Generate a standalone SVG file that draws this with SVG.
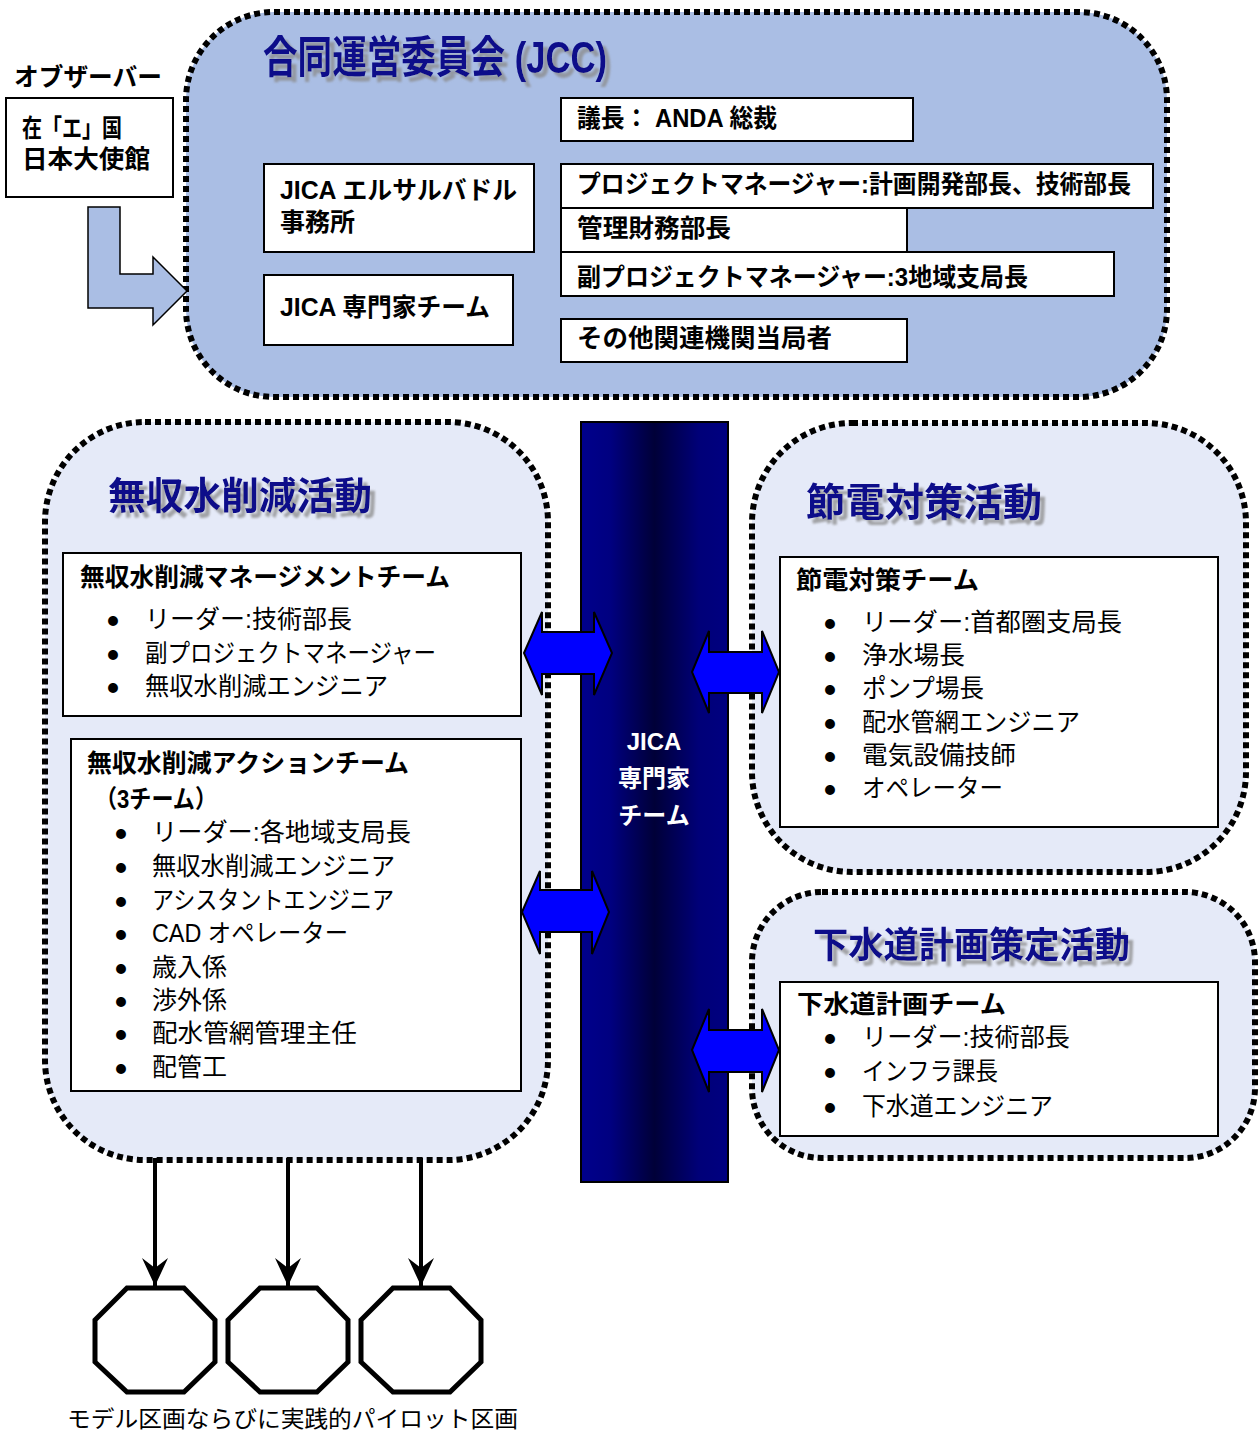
<svg xmlns="http://www.w3.org/2000/svg" width="1259" height="1434" viewBox="0 0 1259 1434">
<defs>
<style>
.txt{font-family:"Liberation Sans","Noto Sans CJK JP",sans-serif;fill:#000}
.bd{font-weight:bold;font-size:25px}
.rg{font-size:25px}
.bl{font-family:"Noto Sans CJK JP",sans-serif;font-size:11px;fill:#000}
.ttl{font-family:"Liberation Sans","Noto Sans CJK JP",sans-serif;font-weight:bold;fill:#0c0c8a;filter:url(#sh)}
.cont{stroke:#000;stroke-width:6;stroke-dasharray:6 4}
.jcc{fill:#aabee4}
.act{fill:#e5eaf8}
.box{fill:#fff;stroke:#000;stroke-width:2}
.dbl{fill:#0000ff;stroke:#000;stroke-width:2;stroke-linejoin:miter}
.oct{fill:#fff;stroke:#000;stroke-width:5}
.ln{stroke:#000;stroke-width:4;fill:none}
.wt{font-family:"Liberation Sans","Noto Sans CJK JP",sans-serif;font-weight:bold;font-size:24px;fill:#fff}
</style>
<filter id="sh" x="-10%" y="-20%" width="130%" height="160%">
<feDropShadow dx="5" dy="5" stdDeviation="0.8" flood-color="#8a8a8a" flood-opacity="0.75"/>
</filter>
<linearGradient id="bar" x1="0" y1="0" x2="1" y2="0">
<stop offset="0" stop-color="#00008c"/>
<stop offset="0.2" stop-color="#000080"/>
<stop offset="0.5" stop-color="#000038"/>
<stop offset="0.8" stop-color="#000078"/>
<stop offset="1" stop-color="#000080"/>
</linearGradient>
<marker id="ah" viewBox="0 0 28 26" refX="28" refY="13" markerWidth="28" markerHeight="26" markerUnits="userSpaceOnUse" orient="auto">
<path d="M28,13 L0,0 L10,13 L0,26 Z" fill="#000"/>
</marker>
</defs>

<g id="jcc">
<rect class="cont jcc" x="186" y="12" width="981" height="385" rx="88" ry="88"/>
<text class="ttl" x="263" y="73" font-size="44" textLength="344" lengthAdjust="spacingAndGlyphs">合同運営委員会 (JCC)</text>
</g>

<g id="observer">
<text class="txt bd" x="14" y="86" font-size="24" textLength="148" lengthAdjust="spacingAndGlyphs">オブザーバー</text>
<rect class="box" x="6" y="98" width="167" height="99"/>
<text class="txt bd" x="22" y="137" textLength="100" lengthAdjust="spacingAndGlyphs">在「エ」国</text>
<text class="txt bd" x="22" y="168" textLength="128" lengthAdjust="spacingAndGlyphs">日本大使館</text>
</g>

<g id="jica-office">
<rect class="box" x="264" y="164" width="270" height="88"/>
<text class="txt bd" x="280" y="199" textLength="237" lengthAdjust="spacingAndGlyphs">JICA  エルサルバドル</text>
<text class="txt bd" x="280" y="231">事務所</text>
</g>
<g id="jica-team">
<rect class="box" x="264" y="275" width="249" height="70"/>
<text class="txt bd" x="280" y="316" textLength="210" lengthAdjust="spacingAndGlyphs">JICA 専門家チーム</text>
</g>
<g id="chair">
<rect class="box" x="561" y="98" width="352" height="43"/>
<text class="txt bd" x="577" y="127" textLength="200" lengthAdjust="spacingAndGlyphs">議長： ANDA 総裁</text>
</g>
<g id="pm">
<rect class="box" x="561" y="164" width="592" height="44"/>
<text class="txt bd" x="577" y="193" textLength="554" lengthAdjust="spacingAndGlyphs">プロジェクトマネージャー:計画開発部長、技術部長</text>
</g>
<g id="finance">
<rect class="box" x="561" y="208" width="346" height="44"/>
<text class="txt bd" x="577" y="237" textLength="154" lengthAdjust="spacingAndGlyphs">管理財務部長</text>
</g>
<g id="deputy-pm">
<rect class="box" x="561" y="252" width="553" height="44"/>
<text class="txt bd" x="577" y="286" textLength="451" lengthAdjust="spacingAndGlyphs">副プロジェクトマネージャー:3地域支局長</text>
</g>
<g id="others">
<rect class="box" x="561" y="319" width="346" height="43"/>
<text class="txt bd" x="577" y="347" textLength="255" lengthAdjust="spacingAndGlyphs">その他関連機関当局者</text>
</g>

<g id="nrw-activity">
<rect class="cont act" x="45" y="422" width="503" height="738" rx="100" ry="100"/>
<text class="ttl" x="108" y="509" font-size="38" textLength="264" lengthAdjust="spacingAndGlyphs">無収水削減活動</text>
</g>
<g id="nrw-management">
<rect class="box" x="63" y="553" width="458" height="163"/>
<text class="txt bd" x="80" y="586" font-size="24" textLength="370" lengthAdjust="spacingAndGlyphs">無収水削減マネージメントチーム</text>
<text class="bl" x="107.5" y="625">●</text><text class="txt rg" x="145" y="628" textLength="207" lengthAdjust="spacingAndGlyphs">リーダー:技術部長</text>
<text class="bl" x="107.5" y="659">●</text><text class="txt rg" x="145" y="662" textLength="291" lengthAdjust="spacingAndGlyphs">副プロジェクトマネージャー</text>
<text class="bl" x="107.5" y="692">●</text><text class="txt rg" x="145" y="695" textLength="243" lengthAdjust="spacingAndGlyphs">無収水削減エンジニア</text>
</g>
<g id="nrw-action">
<rect class="box" x="71" y="739" width="450" height="352"/>
<text class="txt bd" x="87" y="772" font-size="24" textLength="322" lengthAdjust="spacingAndGlyphs">無収水削減アクションチーム</text>
<text class="txt bd" x="95" y="808" font-size="24" textLength="122" lengthAdjust="spacingAndGlyphs">（3チーム）</text>
<text class="bl" x="115.5" y="838">●</text><text class="txt rg" x="152" y="841" textLength="259" lengthAdjust="spacingAndGlyphs">リーダー:各地域支局長</text>
<text class="bl" x="115.5" y="872">●</text><text class="txt rg" x="152" y="875" textLength="243" lengthAdjust="spacingAndGlyphs">無収水削減エンジニア</text>
<text class="bl" x="115.5" y="906">●</text><text class="txt rg" x="152" y="909" textLength="242" lengthAdjust="spacingAndGlyphs">アシスタントエンジニア</text>
<text class="bl" x="115.5" y="939">●</text><text class="txt rg" x="152" y="942" textLength="196" lengthAdjust="spacingAndGlyphs">CAD オペレーター</text>
<text class="bl" x="115.5" y="973">●</text><text class="txt rg" x="152" y="976">歳入係</text>
<text class="bl" x="115.5" y="1006">●</text><text class="txt rg" x="152" y="1009">渉外係</text>
<text class="bl" x="115.5" y="1039">●</text><text class="txt rg" x="152" y="1042" textLength="205" lengthAdjust="spacingAndGlyphs">配水管網管理主任</text>
<text class="bl" x="115.5" y="1073">●</text><text class="txt rg" x="152" y="1076">配管工</text>
</g>

<g id="jica-bar">
<rect x="581" y="422" width="147" height="760" fill="url(#bar)" stroke="#000" stroke-width="2"/>
<text class="wt" x="654" y="750" text-anchor="middle">JICA</text>
<text class="wt" x="654" y="787" text-anchor="middle">専門家</text>
<text class="wt" x="654" y="824" text-anchor="middle">チーム</text>
</g>

<g id="energy-activity">
<rect class="cont act" x="752" y="423" width="494" height="449" rx="100" ry="100"/>
<text class="ttl" x="806" y="516" font-size="39" textLength="236" lengthAdjust="spacingAndGlyphs">節電対策活動</text>
</g>
<g id="energy-team">
<rect class="box" x="780" y="557" width="438" height="270"/>
<text class="txt bd" x="796" y="589" textLength="183" lengthAdjust="spacingAndGlyphs">節電対策チーム</text>
<text class="bl" x="824.5" y="628">●</text><text class="txt rg" x="862" y="631" textLength="260" lengthAdjust="spacingAndGlyphs">リーダー:首都圏支局長</text>
<text class="bl" x="824.5" y="661">●</text><text class="txt rg" x="862" y="664" textLength="103" lengthAdjust="spacingAndGlyphs">浄水場長</text>
<text class="bl" x="824.5" y="694">●</text><text class="txt rg" x="862" y="697" textLength="122" lengthAdjust="spacingAndGlyphs">ポンプ場長</text>
<text class="bl" x="824.5" y="728">●</text><text class="txt rg" x="862" y="731" textLength="218" lengthAdjust="spacingAndGlyphs">配水管網エンジニア</text>
<text class="bl" x="824.5" y="761">●</text><text class="txt rg" x="862" y="764" textLength="154" lengthAdjust="spacingAndGlyphs">電気設備技師</text>
<text class="bl" x="824.5" y="794">●</text><text class="txt rg" x="862" y="797" textLength="141" lengthAdjust="spacingAndGlyphs">オペレーター</text>
</g>

<g id="sewer-activity">
<rect class="cont act" x="752" y="892" width="503" height="266" rx="70" ry="70"/>
<text class="ttl" x="813" y="958" font-size="36" textLength="317" lengthAdjust="spacingAndGlyphs">下水道計画策定活動</text>
</g>
<g id="sewer-team">
<rect class="box" x="780" y="982" width="438" height="154"/>
<text class="txt bd" x="797" y="1013" textLength="209" lengthAdjust="spacingAndGlyphs">下水道計画チーム</text>
<text class="bl" x="824.5" y="1043">●</text><text class="txt rg" x="862" y="1046" textLength="208" lengthAdjust="spacingAndGlyphs">リーダー:技術部長</text>
<text class="bl" x="824.5" y="1077">●</text><text class="txt rg" x="862" y="1080" textLength="136" lengthAdjust="spacingAndGlyphs">インフラ課長</text>
<text class="bl" x="824.5" y="1112">●</text><text class="txt rg" x="862" y="1115" textLength="191" lengthAdjust="spacingAndGlyphs">下水道エンジニア</text>
</g>

<g id="pilot-1"><polygon class="oct" points="127,1288 184,1288 215,1320 215,1362 184,1392 127,1392 95,1362 95,1320"/></g>
<g id="pilot-2"><polygon class="oct" points="260,1288 317,1288 348,1320 348,1362 317,1392 260,1392 228,1362 228,1320"/></g>
<g id="pilot-3"><polygon class="oct" points="393,1288 450,1288 481,1320 481,1362 450,1392 393,1392 361,1362 361,1320"/></g>
<g id="pilot-label">
<text class="txt" x="67" y="1427" font-size="23" textLength="451" lengthAdjust="spacingAndGlyphs">モデル区画ならびに実践的パイロット区画</text>
</g>

<g id="connectors">
<path d="M88,207 L120,207 L120,274 L153,274 L153,257 L187,291 L153,325 L153,308 L88,308 Z" fill="#aabee4" stroke="#000" stroke-width="1.5"/>
<path class="dbl" d="M524,653 L542,612 L542,632 L594,632 L594,612 L612,653 L594,695 L594,674 L542,674 L542,695 Z"/>
<path class="dbl" d="M692,672 L709,631 L709,652 L762,652 L762,631 L779,672 L762,713 L762,693 L709,693 L709,713 Z"/>
<path class="dbl" d="M522,912 L540,871 L540,890 L592,890 L592,871 L609,912 L592,954 L592,932 L540,932 L540,954 Z"/>
<path class="dbl" d="M692,1050 L709,1009 L709,1030 L762,1030 L762,1009 L779,1050 L762,1092 L762,1072 L709,1072 L709,1092 Z"/>
<line class="ln" x1="155" y1="1158" x2="155" y2="1286" marker-end="url(#ah)"/>
<line class="ln" x1="288" y1="1158" x2="288" y2="1286" marker-end="url(#ah)"/>
<line class="ln" x1="421" y1="1158" x2="421" y2="1286" marker-end="url(#ah)"/>
</g>
</svg>
